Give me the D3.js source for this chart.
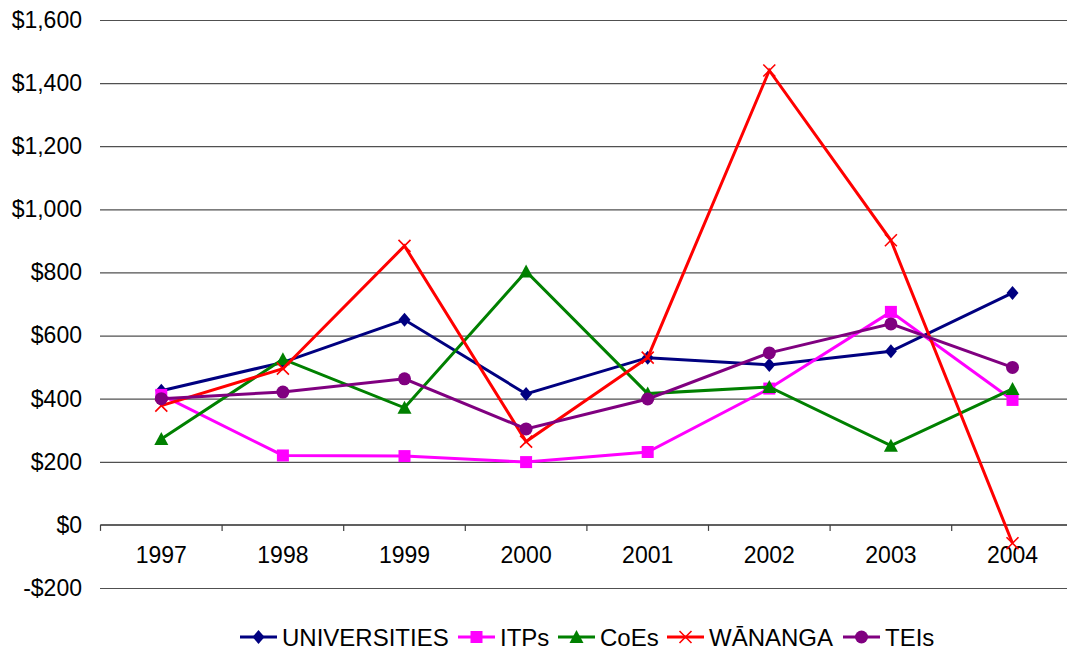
<!DOCTYPE html>
<html>
<head>
<meta charset="utf-8">
<script src="https://cdn.jsdelivr.net/npm/d3@7"></script>
<style>
  body { margin: 0; background: white; }
  text { font-family: "Liberation Sans", Arial, sans-serif; }
</style>
</head>
<body>
<script>
const years = ['1997', '1998', '1999', '2000', '2001', '2002', '2003', '2004']
const seriesNames = ['UNIVERSITIES', 'ITPs', 'CoEs', 'W\u0100NANGA', 'TEIs']
const universities = [425, 515, 650, 415, 530, 507, 550, 735]
const itps = [412, 220, 218, 199, 231, 432, 675, 396]
const coes = [272, 525, 371, 803, 416, 437, 251, 431]
const wananga = [378, 495, 884, 264, 530, 1440, 902, -58]
const teis = [400, 421, 463, 304, 399, 545, 637, 499]
const yTicks = [-200, 0, 200, 400, 600, 800, 1000, 1200, 1400, 1600]

const seriesValues = [universities, itps, coes, wananga, teis]
const colors = ['#000080', '#FF00FF', '#008000', '#FF0000', '#800080']
const shapes = ['diamond', 'square', 'triangle', 'cross', 'circle']

const width = 1067, height = 650

const svg = d3.select('body')
    .append('svg')
    .attr('width', width)
    .attr('height', height)
    .attr('style', 'background-color: white')

const x = d3.scaleBand()
    .domain(years)
    .range([100.5, 100.5 + 8 * 121.6])
    .padding(0)

const y = d3.scaleLinear()
    .domain([-200, 1600])
    .range([588, 20])

// gridlines + y labels
const yAxis = svg.append('g')
    .attr('transform', 'translate(100,0)')
    .call(d3.axisLeft(y)
        .tickValues(yTicks)
        .tickSize(-(width - 100))
        .tickPadding(18)
        .tickFormat(d => d < 0 ? '-$' + d3.format(',')(-d) : '$' + d3.format(',')(d)))
yAxis.select('.domain').remove()
yAxis.selectAll('.tick line')
    .attr('stroke', '#505050')
    .attr('stroke-width', 1.2)
yAxis.selectAll('.tick text')
    .attr('font-size', '23px')
    .attr('fill', '#000')

// category axis at zero
const xAxis = svg.append('g')
    .attr('transform', `translate(0,${y(0)})`)
    .call(d3.axisBottom(x).tickSize(0).tickPadding(22))
xAxis.select('.domain').remove()
xAxis.selectAll('.tick text')
    .attr('font-size', '23px')
    .attr('fill', '#000')
xAxis.append('line')
    .attr('x1', x.range()[0])
    .attr('x2', width)
    .attr('stroke', '#606060')
    .attr('stroke-width', 2)
xAxis.selectAll('.bound')
    .data(years)
    .enter()
    .append('line')
    .attr('x1', d => x(d))
    .attr('x2', d => x(d))
    .attr('y1', 0)
    .attr('y2', 6)
    .attr('stroke', '#404040')
    .attr('stroke-width', 1.2)

const cx = d => x(d) + x.bandwidth() / 2

function marker(sel, shape, color) {
    if (shape === 'diamond') {
        sel.append('path').attr('d', 'M0,-7L6,0L0,7L-6,0Z').attr('fill', color)
    } else if (shape === 'square') {
        sel.append('rect').attr('x', -6).attr('y', -6).attr('width', 12).attr('height', 12).attr('fill', color)
    } else if (shape === 'triangle') {
        sel.append('path').attr('d', 'M0,-7L7,6L-7,6Z').attr('fill', color)
    } else if (shape === 'cross') {
        sel.append('path').attr('d', 'M-6,-6L6,6M-6,6L6,-6').attr('stroke', color).attr('stroke-width', 1.6).attr('fill', 'none')
    } else {
        sel.append('circle').attr('r', 6.5).attr('fill', color)
    }
}

const line = d3.line()
    .x((d, i) => cx(years[i]))
    .y(d => y(d))

seriesValues.forEach((vals, s) => {
    const g = svg.append('g')
    g.append('path')
        .datum(vals)
        .attr('d', line)
        .attr('fill', 'none')
        .attr('stroke', colors[s])
        .attr('stroke-width', 3)
    g.selectAll('.pt')
        .data(vals)
        .enter()
        .append('g')
        .attr('transform', (d, i) => `translate(${cx(years[i])},${y(d)})`)
        .each(function () { marker(d3.select(this), shapes[s], colors[s]) })
})

// legend
const legendX = [240, 458, 558, 667, 843]
seriesNames.forEach((name, s) => {
    const g = svg.append('g').attr('transform', `translate(${legendX[s]},637)`)
    g.append('line')
        .attr('x1', 0).attr('x2', 37)
        .attr('stroke', colors[s]).attr('stroke-width', 3)
    const m = g.append('g').attr('transform', 'translate(18.5,0)')
    marker(m, shapes[s], colors[s])
    g.append('text')
        .attr('x', 42)
        .attr('y', 8.5)
        .attr('font-size', '24px')
        .text(name)
})
</script>
</body>
</html>
